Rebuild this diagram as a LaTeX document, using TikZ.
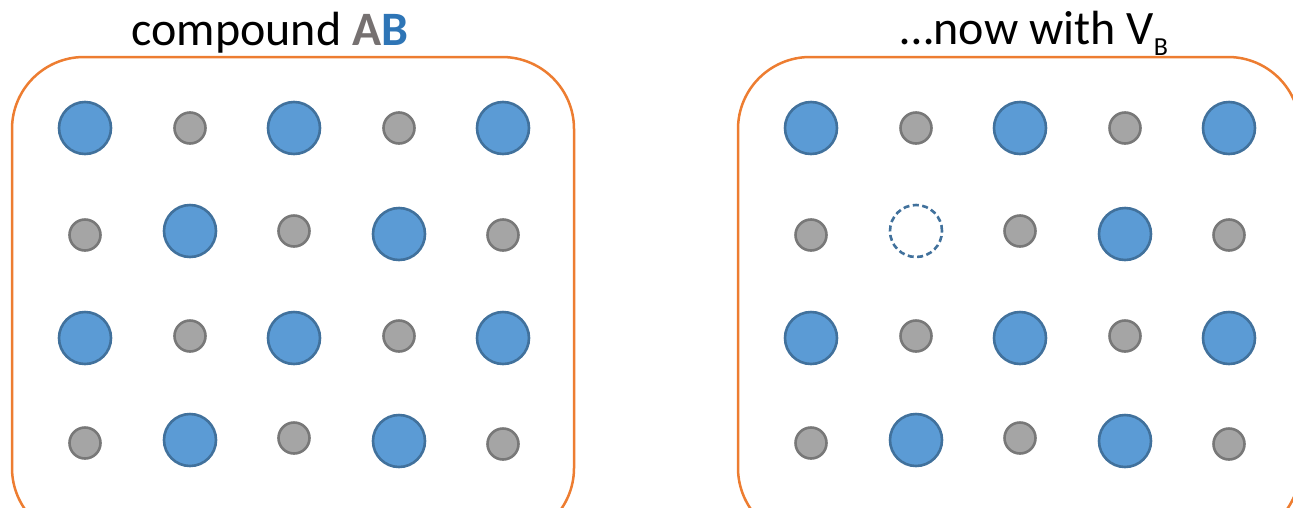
\documentclass[tikz,border=0pt]{standalone}
\usepackage{fontspec}
\setmainfont{Carlito}
\definecolor{orng}{HTML}{ED7D31}
\definecolor{bfill}{HTML}{5B9BD5}
\definecolor{bedge}{HTML}{41719C}
\definecolor{gfill}{HTML}{A5A5A5}
\definecolor{gedge}{HTML}{787878}
\definecolor{titA}{HTML}{767171}
\definecolor{titB}{HTML}{2E75B6}
\tikzset{
  bigb/.style={circle,draw=bedge,fill=bfill,line width=2.6pt,minimum size=52pt,inner sep=0pt},
  smallg/.style={circle,draw=gedge,fill=gfill,line width=2.6pt,minimum size=31pt,inner sep=0pt},
  vac/.style={circle,draw=bedge,dashed,dash pattern=on 6pt off 3.5pt,line width=2.6pt,minimum size=52pt,inner sep=0pt},
  frame/.style={draw=orng,line width=2.5pt,rounded corners=72pt},
  title/.style={font=\fontsize{48}{54}\selectfont,anchor=base}
}
\begin{document}
\begin{tikzpicture}[x=1pt,y=-1pt]
\useasboundingbox (0,0) rectangle (1293,507);
\draw[frame] (12,57) rectangle (574,540);
\draw[frame] (738,57) rectangle (1300,540);
\node[title] (t1) at (270,45) {compound \textbf{\textcolor{titA}{A}\textcolor{titB}{B}}};
\node[title,anchor=base west] (t2) at (897,44) {…now with V\raisebox{-11pt}{\fontsize{26}{26}\selectfont B}};
% left
\node[bigb] (l11) at (85,128) {};
\node[smallg] (l12) at (190,128) {};
\node[bigb] (l13) at (294,128) {};
\node[smallg] (l14) at (399,128) {};
\node[bigb] (l15) at (503,128) {};
\node[smallg] (l21) at (85,235) {};
\node[bigb] (l22) at (190,231) {};
\node[smallg] (l23) at (294,231) {};
\node[bigb] (l24) at (399,234) {};
\node[smallg] (l25) at (503,235) {};
\node[bigb] (l31) at (85,338) {};
\node[smallg] (l32) at (190,336) {};
\node[bigb] (l33) at (294,338) {};
\node[smallg] (l34) at (399,336) {};
\node[bigb] (l35) at (503,338) {};
\node[smallg] (l41) at (85,443) {};
\node[bigb] (l42) at (190,440) {};
\node[smallg] (l43) at (294,438) {};
\node[bigb] (l44) at (399,441) {};
\node[smallg] (l45) at (503,444) {};
% right
\node[bigb] (r11) at (811,128) {};
\node[smallg] (r12) at (916,128) {};
\node[bigb] (r13) at (1020,128) {};
\node[smallg] (r14) at (1125,128) {};
\node[bigb] (r15) at (1229,128) {};
\node[smallg] (r21) at (811,235) {};
\node[vac] (r22) at (916,231) {};
\node[smallg] (r23) at (1020,231) {};
\node[bigb] (r24) at (1125,234) {};
\node[smallg] (r25) at (1229,235) {};
\node[bigb] (r31) at (811,338) {};
\node[smallg] (r32) at (916,336) {};
\node[bigb] (r33) at (1020,338) {};
\node[smallg] (r34) at (1125,336) {};
\node[bigb] (r35) at (1229,338) {};
\node[smallg] (r41) at (811,443) {};
\node[bigb] (r42) at (916,440) {};
\node[smallg] (r43) at (1020,438) {};
\node[bigb] (r44) at (1125,441) {};
\node[smallg] (r45) at (1229,444) {};
\end{tikzpicture}
\end{document}
